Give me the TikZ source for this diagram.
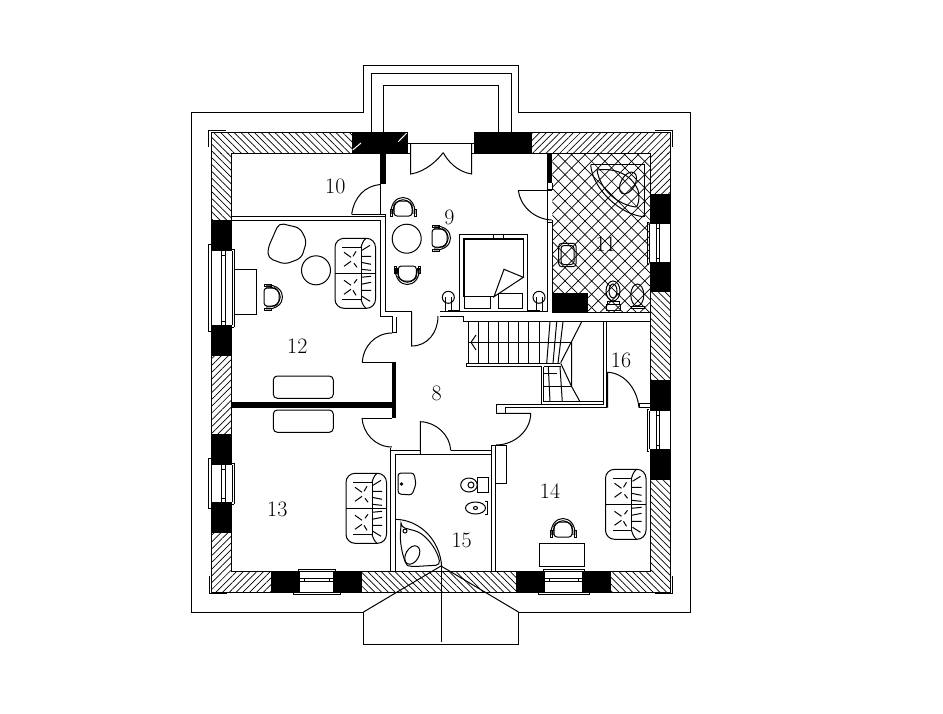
\documentclass[tikz,border=0pt]{standalone}
\usepackage{tikz}
\usetikzlibrary{patterns,patterns.meta}
\tikzset{
    plan/.style={line width=1pt,x=1pt,y=-1pt},
    hatchse/.style={pattern={Lines[angle=-45,distance=4.8pt,line width=0.7pt]}},
    hatchne/.style={pattern={Lines[angle=45,distance=4.8pt,line width=0.7pt]}},
    roomno/.style={font=\fontsize{22}{26}\selectfont,inner sep=0pt},
    pics/chair/.style={code={
        \draw[fill=white,rounded corners=3pt] (-9,8) -- (-9,-3) -- (-6,-7) -- (6,-7) -- (9,-3) -- (9,8) -- cycle;
        \draw (-10,6) .. controls (-11,-13) and (11,-13) .. (10,6);
        \draw (-12,6) .. controls (-13,-16) and (13,-16) .. (12,6);
        \draw (-13,1) rectangle (-11,8);
        \draw (11,1) rectangle (13,8);
    }},
    pics/sofa/.style={code={
        \draw[rounded corners=9pt] (-20,-35) rectangle (20.5,35);
        \draw (-20,0) -- (20.5,0);
        \draw (-13,-26) -- (6,-26) -- (6,26) -- (-13,26);
        \draw (6,-26) .. controls (8,-33) and (10,-34) .. (11,-35);
        \draw (6,26) .. controls (8,33) and (10,34) .. (11,35);
        \foreach \s in {1,-1} {
            \draw (6,\s*4) -- (16,\s*3) (6,\s*11) -- (16,\s*9) (6,\s*17) -- (16,\s*17) (7,\s*23) -- (15,\s*28);
            \draw (-11,\s*7) -- (-4,\s*12) (-11,\s*21) -- (-4,\s*16) (2,\s*6) -- (-1,\s*10) (1,\s*22) -- (-2,\s*17);
        }
    }},
    pics/window/.style={code={
        \fill[white] (-#1/2,0) rectangle (#1/2,-21);
        \draw (-#1/2,0) -- (#1/2,0) (-#1/2,-21) -- (#1/2,-21);
        \draw (-#1/2,-14) -- (#1/2,-14) (-#1/2,-10.5) -- (#1/2,-10.5);
        \draw (-#1/2+4,-14) -- (-#1/2+4,-10.5) (#1/2-4,-14) -- (#1/2-4,-10.5);
        \draw (-#1/2-2,-23) -- (#1/2+2,-23) (-#1/2-2,-23) -- (-#1/2-2,-21) (#1/2+2,-23) -- (#1/2+2,-21);
    }},
}
\begin{document}
\begin{tikzpicture}[plan]
    \useasboundingbox (0,0) rectangle (943,713);
    % walls, hatched
    \foreach \xa/\ya/\xb/\yb in {211/132/352/153,211/153/231/220,362/571/517/592,610/571/670/592,650/292/670/380,650/480/670/571}
        \path[hatchse] (\xa,\ya) rectangle (\xb,\yb);
    \foreach \xa/\ya/\xb/\yb in {532/132/670/153,650/153/670/194,211/356/231/434,211/533/231/592,231/571/271/592}
        \path[hatchne] (\xa,\ya) rectangle (\xb,\yb);
    % tiles
    \path[pattern={Lines[angle=45,distance=9.4pt,line width=0.7pt]}] (552.3,153) rectangle (650,312.7);
    \path[pattern={Lines[angle=-45,distance=9.4pt,line width=0.7pt]}] (552.3,153) rectangle (650,312.7);
    % piers
    \foreach \xa/\ya/\xb/\yb in {352/132/408/153,474/132/532/153,211/220/231/251,211/325/231/356,211/434/231/465,211/502/231/533,650/194/670/224,650/262/670/292,650/380/670/411,650/449/670/480,271/571/300/592,333/571/362/592,516/571/545/592,582/571/611/592,380/153/386/184,547.3/153/552.3/182.7,552/293.3/587.7/312,392/362/396/418,231/401.7/392/407.7}
        \fill (\xa,\ya) rectangle (\xb,\yb);
    \draw[white] (352.7,150) -- (361,143) (398.3,141.7) -- (406.7,133);
    % outline of the house
    \draw (408,132) -- (211,132) -- (211,592) -- (670,592) -- (670,132) -- (474,132);
    \draw (410.7,153) -- (231,153) -- (231,571) -- (650,571) -- (650,153) -- (471.7,153);
    \pic[rotate=-90] at (211,288) {window=74};
    \pic[rotate=-90] at (211,483.5) {window=37};
    \pic[rotate=90] at (670,243) {window=38};
    \pic[rotate=90] at (670,430) {window=38};
    \pic at (316.5,592) {window=33};
    \pic at (563.5,592) {window=37};
    \draw (211,244) -- (208,244) -- (208,331.5) -- (211,331.5);
    \draw (211,458) -- (208,458) -- (208,508) -- (211,508);
    \draw (293.3,592) -- (293.3,594.3) -- (340,594.3) -- (340,592);
    \draw (538.3,592) -- (538.3,594.3) -- (589,594.3) -- (589,592);
    \draw (191.5,112) -- (363.5,112) -- (363.5,65) -- (518.5,65) -- (518.5,112) -- (690,112) -- (690,612) -- (518.5,612) -- (518.5,644) -- (363.5,644) -- (363.5,612) -- (191.5,612) -- cycle;
    \draw (371,132) -- (371,73) -- (511,73) -- (511,132);
    \draw (383,132) -- (383,85) -- (498.7,85) -- (498.7,132);
    \draw (363.5,612) -- (441,566) -- (518.5,612);
    \draw (441,566) -- (441,642);
    \draw (208,147) -- (208,130) -- (225.7,130);
    \draw (655,130) -- (672.7,130) -- (672.7,147);
    \draw (209,576) -- (209,593) -- (227,593);
    \draw (672.7,576) -- (672.7,593) -- (655,593);
    % inner walls
    \draw (231,216) -- (385,216) (231,220) -- (380,220);
    \draw (380.3,184) -- (380.3,214.3) -- (385,214.3) -- (385,311.7) -- (411.7,311.7);
    \draw (380.3,220) -- (380.3,316.6) -- (392,316.6) -- (392,332.6) -- (396,332.6) -- (396,316.6);
    \draw (408,143.3) -- (474,143.3);
    \draw (547.3,182.7) -- (547.3,311.7) -- (440,311.7);
    \draw (552.3,182.7) -- (552.3,190.3) (552.3,220) -- (552.3,312.7) -- (650,312.7);
    \draw (547.3,189) -- (552.3,189) (547.3,222) -- (552.3,222);
    \draw (440,316) -- (463.3,316) -- (463.3,321.7) -- (650,321.7);
    \draw (390.3,448) -- (390.3,571) (395.7,454.3) -- (395.7,571);
    \draw (390.3,450.3) -- (420.3,450.3) (395.7,454.3) -- (491.7,454.3);
    \draw (450.7,450.3) -- (491.7,450.3);
    \draw (491.7,445) -- (491.7,571) (495.7,445) -- (495.7,571) (491.7,445) -- (496,445);
    \draw (495.7,445) rectangle (506.3,483.3);
    \draw (496,404) -- (603.7,404) -- (603.7,321.7) (606.7,321.7) -- (606.7,407.7);
    \draw (496,404) -- (496,413.3) -- (505.7,413.3) -- (505.7,407.7) -- (606.7,407.7);
    \draw (639,403.7) -- (650,403.7) (639,407.7) -- (650,407.7) (639,403.7) -- (639,407.7);
    % doors
    \draw (351.7,214.3) -- (380.3,214.3);
    \draw (351.7,214.3) .. controls (354,197) and (365,186) .. (380,184.5);
    \draw (410.7,143.3) -- (410.7,174) .. controls (425,172) and (438,160) .. (443,152.7);
    \draw (471.7,143.3) -- (471.7,174) .. controls (457,172) and (447,160) .. (443.3,152.7);
    \draw (518.3,190.3) -- (552,190.3);
    \draw (518.3,190.3) .. controls (520,205) and (533,219) .. (551.7,220);
    \draw (411.7,311.7) -- (411.7,346) .. controls (428,346) and (438,332) .. (438,316);
    \draw (362.3,362) -- (392,362);
    \draw (362.3,362) .. controls (363,347) and (375,333) .. (392,333);
    \draw (362,418) -- (392,418);
    \draw (362,418) .. controls (363,433) and (375,447) .. (392,447);
    \draw (420.3,454.3) -- (420.3,421.7) .. controls (436,422) and (450,435) .. (450.7,450.3);
    \draw (496,413.3) -- (530.7,413.3) .. controls (530.7,431) and (514,445) .. (496,445);
    \draw (607.7,407.7) -- (607.7,372.3) .. controls (624,373) and (637,388) .. (639,407.7);
    % stairs
    \draw (468.3,321.7) -- (468.3,363.3) (466.7,363.3) -- (560,363.3) (466.7,366.7) -- (541.7,366.7) (466.7,363.3) -- (466.7,366.7);
    \foreach \x in {478.3,488.4,498.5,508.6,518.7,528.8,539}
        \draw (\x,321.7) -- (\x,363.3);
    \draw (468.3,342.3) -- (571.7,342.3);
    \draw (471,342.3) -- (476,335) (471,342.3) -- (476,350);
    \draw (550,321.7) -- (546.7,363.3) (556.7,321.7) -- (553,363.3) (563,321.7) -- (558,363.3) (581.7,321.7) -- (560.7,362.7);
    \draw (541.7,366.7) -- (541.7,404) (543.7,366.7) -- (543.7,401.7) -- (603.7,401.7);
    \draw (543.7,366.7) -- (560.7,366.7) (543.7,373) -- (557,373) (543.7,386.7) -- (571.7,386.7);
    \draw (571.7,342.3) -- (571.7,386.7) (560.7,363.3) -- (571.7,386.7) -- (580,401.7);
    \draw (548.3,366.7) -- (550,401.7) (560,366.7) -- (562.3,401.7);
    % bed
    \draw (448,310) -- (459.3,310) -- (459.3,234) -- (527.3,234) -- (527.3,310) -- (540,310);
    \draw (493.3,234) -- (493.3,238.5) (503.3,234) -- (503.3,238.5);
    \draw[line width=1.5pt] (494,296.7) -- (464,296.7) -- (464,239) -- (523.3,239) -- (523.3,277.3);
    \draw (504,269.3) -- (523.3,277.3) -- (494,296.7) -- cycle;
    \draw (464,296.7) -- (464,308.3) -- (490,308.3) -- (490,296.7);
    \draw (498.3,308.3) rectangle (522.7,293.3);
    \foreach \x in {448.3,539} {
        \draw (\x,297.3) circle (6);
        \draw (\x-3,297.3) -- (\x-3,311.7) (\x+3,297.3) -- (\x+3,311.7);
    }
    % furniture
    \pic at (403,208) {chair};
    \pic[rotate=180] at (407.3,274) {chair};
    \pic[rotate=-90] at (440,238) {chair};
    \pic[rotate=-90] at (272,297) {chair};
    \pic at (563,529) {chair};
    \draw (406.7,238.7) circle (14.5);
    \draw (316,270.3) circle (14.5);
    \draw[rounded corners=5pt] (279,223) -- (300,228) -- (306.7,241) -- (301.5,258) -- (285,264.3) -- (268,258) -- (268,248) -- cycle;
    \draw (234.3,269.3) rectangle (256.7,314.7);
    \draw (539.3,543.3) rectangle (584.7,566.7);
    \draw[rounded corners=4pt] (273.3,398.3) -- (273.3,376) -- (333.3,376) -- (333.3,398.3) -- cycle;
    \draw[rounded corners=4pt] (273.3,410) -- (273.3,432.3) -- (333.3,432.3) -- (333.3,410) -- cycle;
    \pic at (355,273.3) {sofa};
    \pic at (366,508.3) {sofa};
    \pic at (625.5,504.3) {sofa};
    % bath, room 11
    \draw (590.7,164.7) -- (644,164.7) -- (644,216.7);
    \draw (590.7,164.7) .. controls (592,188) and (620,215) .. (644,216.7);
    \draw (597,170) .. controls (612,168) and (630,172) .. (638,190) .. controls (640,200) and (638,206) .. (636,207) .. controls (618,205) and (600,190) .. (597,170) -- cycle;
    \draw[rotate around={-30:(628,183)}] (628,183) ellipse (7 and 12);
    \draw[rounded corners=3pt] (558.7,243.3) rectangle (576,266.7);
    \draw[rounded corners=3pt] (561,245.5) rectangle (574,264.5);
    \draw (613,291) ellipse (7 and 10);
    \draw (613,291) ellipse (4 and 7);
    \draw (607,301) rectangle (619,304) (606,304) -- (606,310) -- (620.7,310) -- (620.7,304);
    \draw (637.3,295) ellipse (6.5 and 11);
    \draw (631,306) rectangle (644,308);
    % room 15
    \draw[rounded corners=3pt] (398,473) -- (414,473) -- (416,484) -- (412,495) -- (398,494) -- cycle;
    \draw (401.5,484) circle (1.2);
    \draw (469,485) ellipse (8.3 and 7);
    \draw (471,485) circle (3);
    \draw (477.3,477.7) rectangle (488.3,492.7);
    \draw (475.5,508) ellipse (10 and 6);
    \draw (475.5,508) ellipse (2 and 1.5);
    \draw (485,501.7) -- (487.7,501.7) -- (487.7,514.3) -- (485,514.3);
    \draw (395.7,519.3) .. controls (420,520) and (440,540) .. (441.7,566.7);
    \draw[rounded corners=4pt] (401,527) -- (418.3,531.7) .. controls (430,540) and (438,552) .. (440,565) -- (411.7,566.7) .. controls (405,565) and (399,545) .. cycle;
    \draw[rotate around={-30:(412.3,555)}] (412.3,555) ellipse (6.5 and 10);
    \draw (405,531) circle (2);
    % room numbers
    \node[roomno] (room8) at (436.7,393.3) {8};
    \node[roomno] (room9) at (449.3,217) {9};
    \node[roomno] (room10) at (335.3,186) {10};
    \node[roomno] (room11) at (605.7,244) {11};
    \node[roomno] (room12) at (297.3,346) {12};
    \node[roomno] (room13) at (277.3,509) {13};
    \node[roomno] (room14) at (550,491) {14};
    \node[roomno] (room15) at (461.7,540) {15};
    \node[roomno] (room16) at (621,360) {16};
\end{tikzpicture}
\end{document}
